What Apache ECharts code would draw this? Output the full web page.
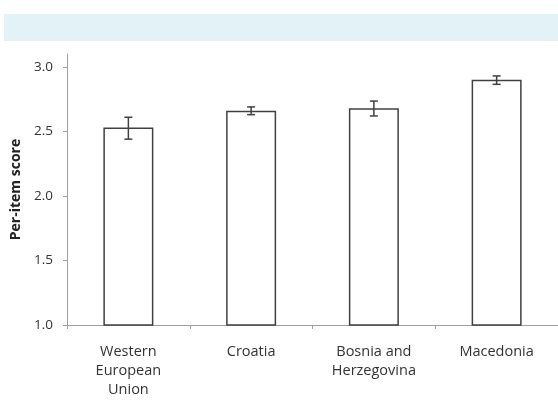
<!DOCTYPE html>
<html><head><meta charset="utf-8">
<script src="https://cdn.jsdelivr.net/npm/echarts@6/dist/echarts.min.js"></script>
<style>html,body{margin:0;padding:0;background:#fff}#c{width:558px;height:404px}</style>
</head><body><div id="c"></div>
<script>
const categories = ['Western\nEuropean\nUnion', 'Croatia', 'Bosnia and\nHerzegovina', 'Macedonia'];
const scores = [2.53, 2.66, 2.68, 2.90];
const errLow = [2.44, 2.63, 2.62, 2.865];
const errHigh = [2.61, 2.69, 2.735, 2.93];
const yTicks = [1.0, 1.5, 2.0, 2.5, 3.0];

const chart = echarts.init(document.getElementById('c'));
const font = 'Open Sans';
chart.setOption({
  animation: false,
  graphic: [{type:'rect', shape:{x:4,y:14,width:560,height:27}, style:{fill:'#e3f2f6'}, silent:true}],
  grid: {left: 67, right: -3, top: 54, bottom: 79},
  xAxis: {
    type: 'category', data: categories,
    axisLine: {lineStyle: {color: '#a0a0a0', width: 1}},
    axisTick: {show: true, alignWithLabel: false, length: 4, lineStyle: {color: '#a0a0a0'}},
    axisLabel: {color: '#333', fontFamily: font, fontSize: 14.5, lineHeight: 19, margin: 17, interval: 0}
  },
  yAxis: {
    type: 'value', min: 1.0, max: 3.1, interval: 0.5,
    name: 'Per-item score', nameLocation: 'middle', nameGap: 42,
    nameTextStyle: {color: '#222', fontFamily: font, fontSize: 14, fontWeight: 'bold'},
    nameRotate: 90,
    splitLine: {show: false},
    axisLine: {show: true, lineStyle: {color: '#a0a0a0'}},
    axisTick: {show: true, length: 4, lineStyle: {color: '#a0a0a0'}, customValues: yTicks},
    axisLabel: {color: '#333', fontFamily: font, fontSize: 13.5, margin: 14, customValues: yTicks,
      formatter: v => v.toFixed(1)}
  },
  series: [
    {type: 'bar', data: scores, barWidth: 50,
     itemStyle: {color: '#fff', borderColor: '#404040', borderWidth: 1.5}},
    {type: 'custom', data: scores.map((s, i) => [i, errLow[i], errHigh[i]]),
     renderItem: function(params, api) {
       const lo = api.coord([api.value(0), api.value(1)]);
       const hi = api.coord([api.value(0), api.value(2)]);
       const w = 4;
       const st = {stroke: '#404040', lineWidth: 1.5};
       return {type: 'group', children: [
         {type: 'line', shape: {x1: lo[0], y1: lo[1], x2: hi[0], y2: hi[1]}, style: st},
         {type: 'line', shape: {x1: lo[0]-w, y1: lo[1], x2: lo[0]+w, y2: lo[1]}, style: st},
         {type: 'line', shape: {x1: hi[0]-w, y1: hi[1], x2: hi[0]+w, y2: hi[1]}, style: st}
       ]};
     }, z: 5}
  ]
});
</script></body></html>
